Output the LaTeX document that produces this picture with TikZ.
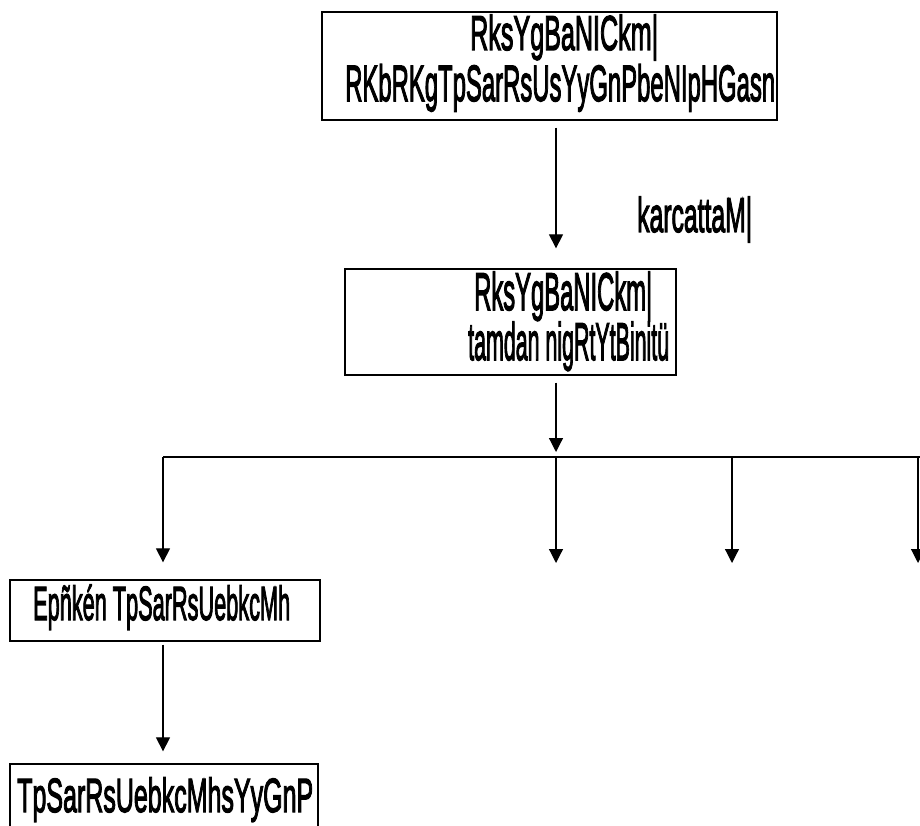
\documentclass[tikz,border=0pt]{standalone}
\usepackage{fontspec}
\setmainfont[FakeBold=3]{Liberation Sans}
\usepackage{graphicx}
\usetikzlibrary{arrows.meta}
\newcommand\fitw[3]{\resizebox{#1}{\height}{\fontsize{#2}{#2}\selectfont #3}}
\tikzset{
  box/.style={draw, line width=1.3pt, inner sep=0pt},
  txt/.style={inner sep=0pt, anchor=base west},
  arr/.style={line width=1.2pt, -{Triangle[width=14pt,length=14pt]}},
  ln/.style={line width=1.2pt}
}
\begin{document}
\begin{tikzpicture}[x=1pt,y=-1pt]
\useasboundingbox (0,0) rectangle (920,826);
\clip (0,0) rectangle (920,826);
% boxes
\node[box, minimum width=455pt, minimum height=108pt] (b1) at (549.5,66) {};
\node[box, minimum width=331pt, minimum height=106pt] (b2) at (510.5,322) {};
\node[box, minimum width=310pt, minimum height=61pt] (b3) at (165,610.5) {};
\node[box, minimum width=308pt, minimum height=100pt] (b4) at (164,814) {};
% texts
\node[txt] (t1a) at (470,50) {\fitw{188pt}{49pt}{RksYgBaNICkm|}};
\node[txt] (t1b) at (345,101) {\fitw{430pt}{51pt}{RKbRKgTpSarRsUsYyGnPbeNIpHGasn}};
\node[txt] (t2a) at (474,310) {\fitw{178pt}{53pt}{RksYgBaNICkm|}};
\node[txt] (t2b) at (468,360) {\fitw{201pt}{53pt}{tamdan nigRtYtBinitü}};
\node[txt] (lab) at (637,232) {\fitw{115pt}{49pt}{karcattaM|}};
\node[txt] (t3) at (33,620) {\fitw{257pt}{48pt}{Epñkén TpSarRsUebkcMh}};
\node[txt] (t4) at (17,812) {\fitw{296pt}{48pt}{TpSarRsUebkcMhsYyGnP}};
% connectors
\coordinate (xc) at (556,0);
\coordinate (xl) at (163,0);
\coordinate (busL) at (163,457);
\coordinate (busR) at (930,457);
\coordinate (busM) at (556,457);
\coordinate (d3) at (732,457);
\coordinate (d4) at (918,457);
\coordinate (e3) at (732,563);
\coordinate (e4) at (918,563);
\coordinate (e2) at (556,563);
\draw[arr, shorten <=7pt, shorten >=20pt] (b1.south -| xc) -- (b2.north -| xc);
\draw[arr, shorten <=7pt, shorten >=5pt] (b2.south -| xc) -- (busM);
\draw[ln] (busL) -- (busR);
\draw[arr, shorten >=17pt] (busL) -- (b3.north -| xl);
\draw[arr] (busM) -- (e2);
\draw[arr] (d3) -- (e3);
\draw[arr] (d4) -- (e4);
\draw[arr, shorten <=3pt, shorten >=12pt] (b3.south -| xl) -- (b4.north -| xl);
\end{tikzpicture}
\end{document}
